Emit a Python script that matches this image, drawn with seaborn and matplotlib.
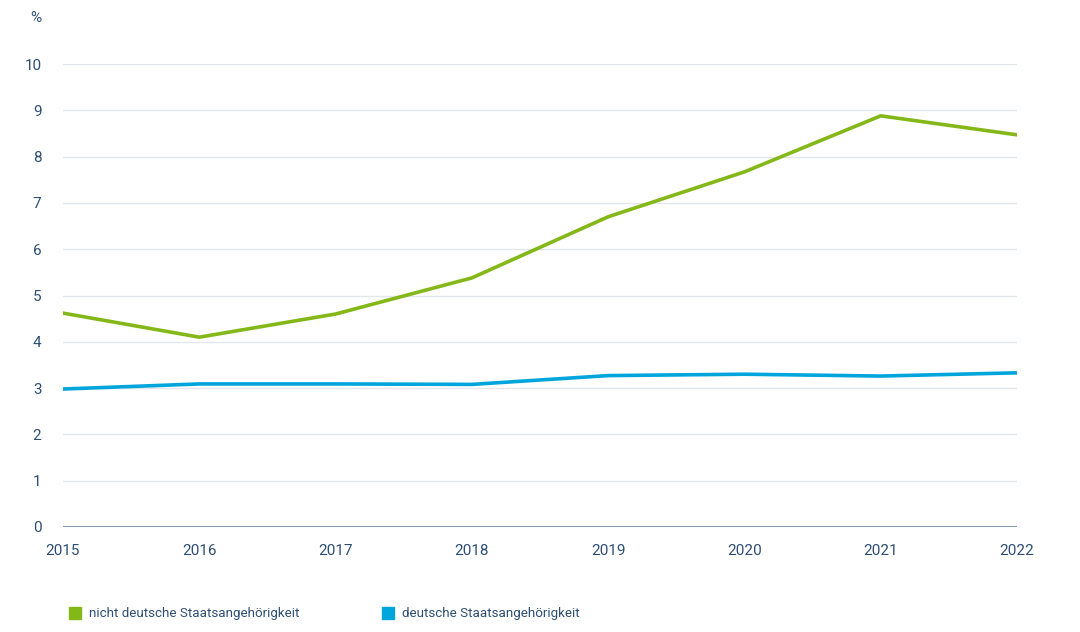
import matplotlib
matplotlib.use("Agg")
import matplotlib.pyplot as plt
import seaborn as sns
import pandas as pd
from matplotlib.lines import Line2D

years = [2015, 2016, 2017, 2018, 2019, 2020, 2021, 2022]
nicht_deutsch = [4.62, 4.10, 4.60, 5.38, 6.70, 7.67, 8.88, 8.47]
deutsch = [2.98, 3.09, 3.09, 3.08, 3.27, 3.30, 3.26, 3.33]
series_names = ["nicht deutsche Staatsangehörigkeit", "deutsche Staatsangehörigkeit"]
yticks = [0, 1, 2, 3, 4, 5, 6, 7, 8, 9, 10]

df = pd.DataFrame({
    "Jahr": years * 2,
    "Wert": nicht_deutsch + deutsch,
    "Gruppe": [series_names[0]] * len(years) + [series_names[1]] * len(years),
})

sns.set_theme(style="white")
plt.rcParams['font.family'] = ['Roboto', 'DejaVu Sans']

txt = "#2d4e73"
green = "#84b819"
blue = "#00a5dc"

fig = plt.figure(figsize=(10.8, 6.32), dpi=100)
ax = fig.add_axes([63/1080, 1-527/632, (1017-63)/1080, (527-64)/632])

sns.lineplot(data=df, x="Jahr", y="Wert", hue="Gruppe",
             palette={series_names[0]: green, series_names[1]: blue},
             linewidth=2.6, ax=ax, legend=False)

ax.set_xlim(years[0], years[-1])
ax.set_ylim(0, 10)
ax.set_yticks(yticks)
ax.set_xticks(years)
ax.set_xticklabels([str(y) for y in years])
ax.set_yticklabels([str(v) for v in yticks])
for v in yticks[1:]:
    ax.axhline(v, color="#e3e6ec", linewidth=1, zorder=0)
ax.axhline(0, color="#8a9bb0", linewidth=1.5, zorder=1)
for s in ax.spines.values():
    s.set_visible(False)
ax.set_xlabel("")
ax.set_ylabel("")
ax.tick_params(axis="y", length=0, pad=15.5, labelsize=11, labelcolor=txt)
ax.tick_params(axis="x", length=0, pad=12, labelsize=11, labelcolor=txt)

fig.text(36/1080, 1-18/632, "%", ha="center", va="center", color=txt, fontsize=11)

handles = [Line2D([], [], marker="s", linestyle="", markersize=9, color=green),
           Line2D([], [], marker="s", linestyle="", markersize=9, color=blue)]
leg = fig.legend(handles, series_names, loc="center left",
                 bbox_to_anchor=(68/1080, 1-614/632), ncol=2, frameon=False,
                 fontsize=9.6, handletextpad=0.55, columnspacing=6.2,
                 handlelength=1.0, borderpad=0, borderaxespad=0)
for t in leg.get_texts():
    t.set_color(txt)

fig.savefig("out.png", dpi=100)
